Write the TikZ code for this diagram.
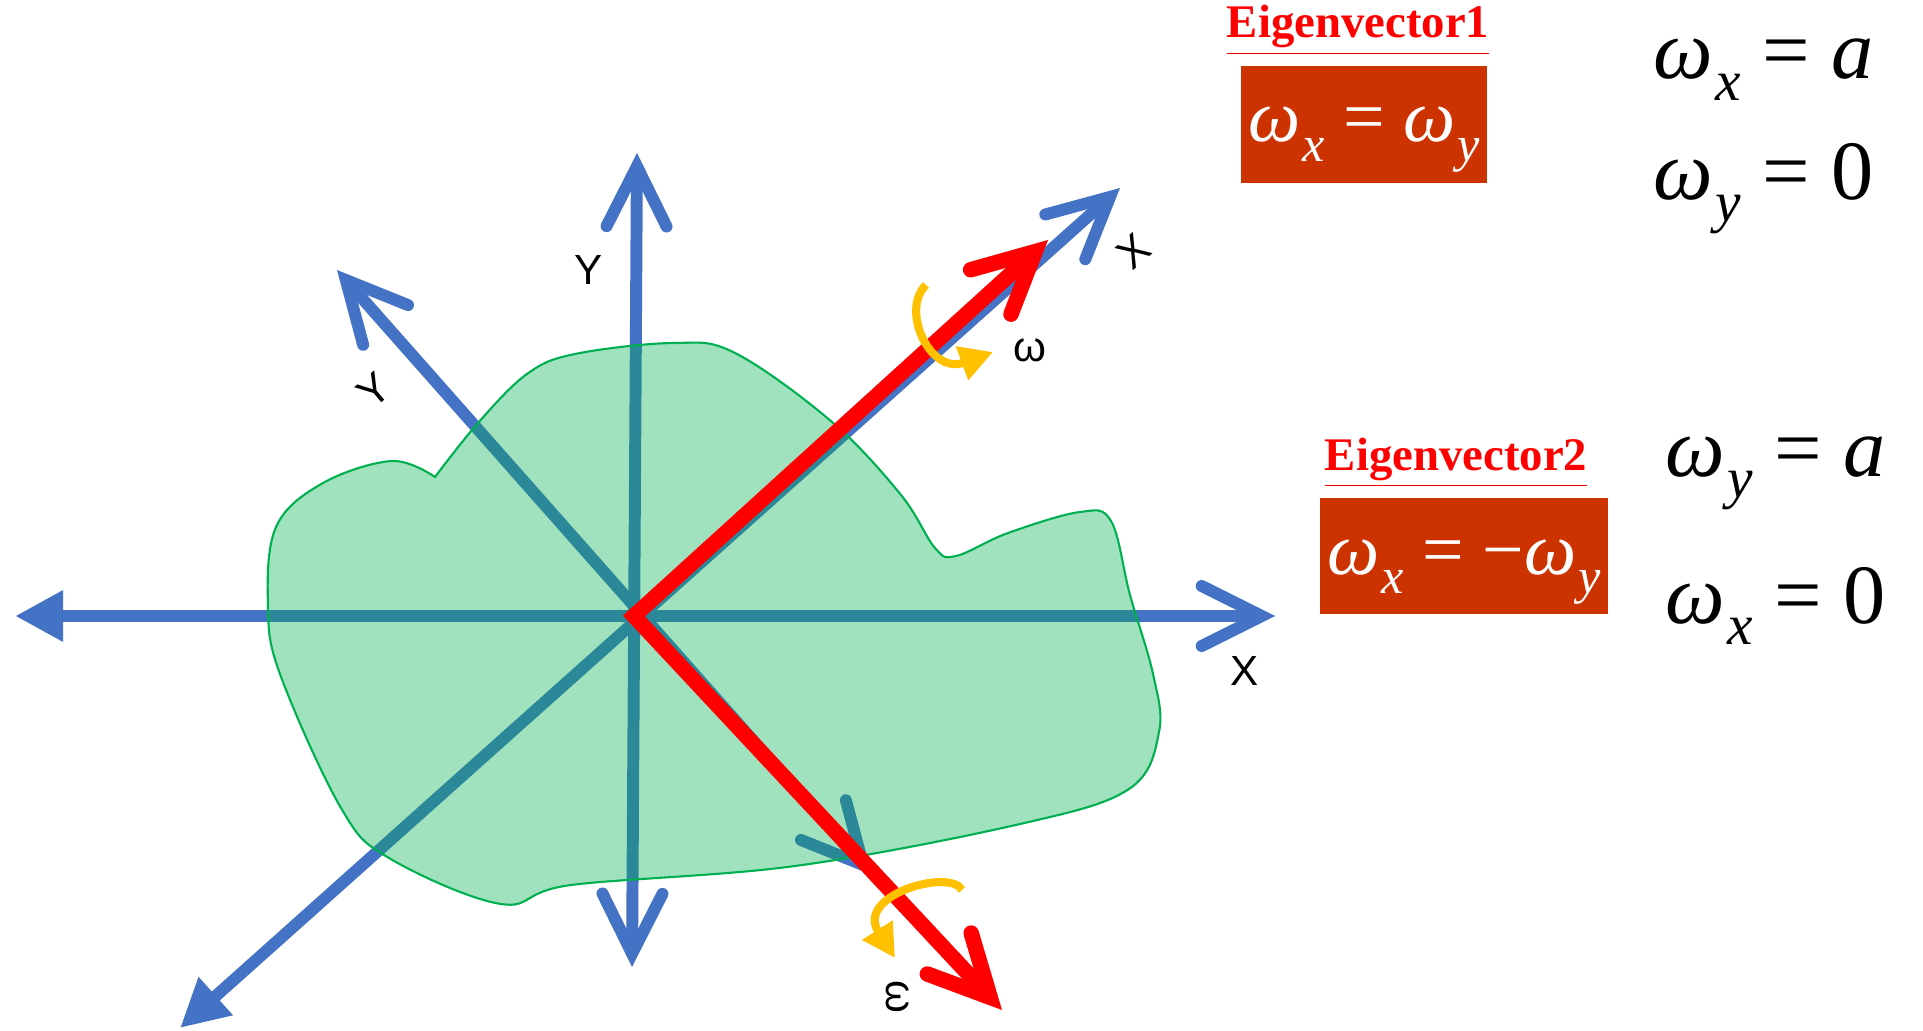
\documentclass[tikz,border=0pt]{standalone}
\usepackage{fontspec}
\usepackage{graphicx}
\setmainfont{Liberation Serif}
\newfontfamily\axisfont{Liberation Sans}
\usetikzlibrary{arrows.meta}
\definecolor{AxisBlue}{HTML}{4472C4}
\definecolor{VecRed}{HTML}{FF0000}
\definecolor{SpinGold}{HTML}{FFC000}
\definecolor{BodyGreen}{HTML}{00B050}
\definecolor{BoxRust}{HTML}{CC3300}
\newcommand{\omsub}[1]{\textit{ω}\kern0.03em\raisebox{-0.26em}{\scalebox{0.68}{\textit{#1}}}}
\tikzset{
  axbarb/.tip={Straight Barb[length=6mm,width=6mm,line cap=round,line join=miter]},
  axhead/.tip={Triangle[length=4.8mm,width=4.8mm]},
  axis/.style={draw=AxisBlue, line width=3.4pt},
  vec/.style={draw=VecRed, line width=4.4pt, line join=miter},
  spin/.style={draw=SpinGold, line width=2.3pt, -{Triangle[length=3.3mm,width=3.4mm]}},
  body/.style={draw=BodyGreen, line width=0.6pt, fill=BodyGreen, fill opacity=0.37},
  axlabel/.style={font=\axisfont\fontsize{12}{14}\selectfont, inner sep=1pt},
  evtitle/.style={font=\fontsize{13.3}{15}\selectfont\bfseries, text=VecRed, inner sep=0pt},
  evbox/.style={fill=BoxRust, text=white, inner sep=0pt, text height=7.6mm,
    text depth=4.1mm, font=\fontsize{21}{24}\selectfont},
  eqn/.style={font=\fontsize{24}{28}\selectfont, inner sep=0pt}
}
\begin{document}
\begin{tikzpicture}[x=1cm,y=1cm]
    \useasboundingbox (0,0) rectangle (19.23,10.30);
    \coordinate (O) at (6.34,4.14);
    \coordinate (xl) at (0.15,4.14);
    \coordinate (xr) at (12.75,4.14);
    \coordinate (yt) at (6.37,8.77);
    \coordinate (yb) at (6.32,0.63);
    \coordinate (ul) at (3.37,7.60);
    \coordinate (lr) at (8.72,1.55);
    \coordinate (ll) at (1.80,0.02);
    \coordinate (ur) at (11.20,8.42);
    \coordinate (e1) at (10.48,7.90);
    \coordinate (e2) at (10.02,0.20);

    \draw[axis,{axhead}-{axbarb}] (xl) -- (xr);
    \draw[axis,{axbarb}-{axbarb}] (yb) -- (yt);
    \draw[axis,{axbarb}-{axbarb}] (ul) -- (lr);
    \draw[axis,{axhead}-{axbarb}] (ll) -- (ur);

    \draw[body] plot[smooth, tension=0.6] coordinates {(4.35,5.53) (4.78,6.07)
      (5.27,6.56) (5.75,6.76) (6.74,6.87) (7.35,6.77) (8.32,6.08) (9.01,5.35)
      (9.35,4.82) (9.56,4.74) (10.08,4.97) (10.80,5.18) (11.11,5.09) (11.30,4.35)
      (11.53,3.56) (11.59,2.98) (11.29,2.41) (10.20,2.06) (7.95,1.64) (5.71,1.45)
      (5.01,1.26) (3.89,1.72) (3.41,2.22) (2.80,3.56) (2.68,4.24) (2.76,5.03)
      (3.23,5.47) (3.92,5.69) (4.35,5.53)} -- cycle;

    \draw[vec,{axbarb}-{axbarb}] (e1) -- (O) -- (e2);

    \coordinate (s1) at (9.26,7.45);
    \coordinate (t1) at (9.93,6.78);
    \coordinate (s2) at (9.62,1.40);
    \coordinate (t2) at (8.95,0.72);
    \draw[spin] (s1) .. controls (9.00,7.20) and (9.30,6.55) .. (t1);
    \draw[spin] (s2) .. controls (9.50,1.62) and (8.55,1.35) .. (t2);

    \node[axlabel] (ylab) at (5.89,7.60) {Y};
    \node[axlabel] (xlab) at (12.45,3.59) {X};
    \node[axlabel,rotate=40] (yrlab) at (3.74,6.40) {Y};
    \node[axlabel,rotate=41] (xrlab) at (11.34,7.79) {X};
    \node[axlabel] (w1lab) at (10.30,6.80) {ω};
    \node[axlabel,rotate=-90] (w2lab) at (8.98,0.33) {ω};

    \node[evtitle,anchor=base] (ev1) at (13.58,9.92) {\underline{Eigenvector1}};
    \node[evbox,minimum width=24.6mm] (box1) at (13.64,9.055) {\omsub{x} = \omsub{y}};
    \node[eqn,anchor=base west] (wxa) at (16.53,9.51) {\omsub{x} = \textit{a}};
    \node[eqn,anchor=base west] (wy0) at (16.53,8.30) {\omsub{y} = 0};

    \node[evtitle,anchor=base] (ev2) at (14.56,5.60) {\underline{Eigenvector2}};
    \node[evbox,minimum width=28.8mm,text depth=4.0mm] (box2) at (14.64,4.74)
      {\omsub{x} = −\omsub{y}};
    \node[eqn,anchor=base west] (wya) at (16.65,5.54) {\omsub{y} = \textit{a}};
    \node[eqn,anchor=base west] (wx0) at (16.65,4.07) {\omsub{x} = 0};
  \end{tikzpicture}
\end{document}
